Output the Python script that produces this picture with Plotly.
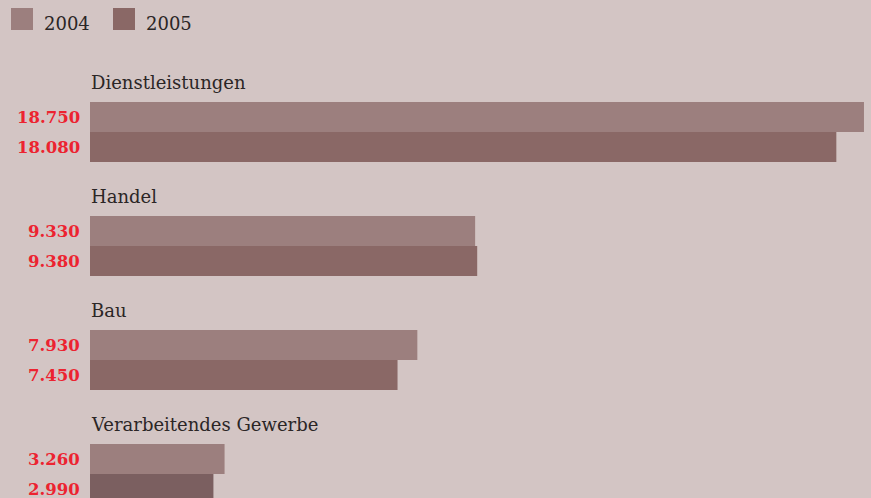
import plotly.graph_objects as go

categories = ["Dienstleistungen", "Handel", "Bau", "Verarbeitendes Gewerbe"]
values_2004 = [18750, 9330, 7930, 3260]
values_2005 = [18080, 9380, 7450, 2990]
labels_2004 = ["18.750", "9.330", "7.930", "3.260"]
labels_2005 = ["18.080", "9.380", "7.450", "2.990"]
series_names = ["2004", "2005"]

W, H = 871, 498
BG = "#d3c5c4"
C2004 = "#9c7f7e"
C2005 = "#8a6866"
C2005_last = "#7b5f60"
RED = "#ec2330"
TXT = "#2b2626"
FONT = "DejaVu Serif"

idx = list(range(len(categories)))
bw = 30 / 114

fig = go.Figure()
fig.add_trace(go.Bar(orientation="h", y=idx, x=values_2004, width=bw, offset=-bw,
                     marker=dict(color=C2004, line=dict(width=0)), name=series_names[0],
                     hoverinfo="x"))
fig.add_trace(go.Bar(orientation="h", y=idx, x=values_2005, width=bw, offset=0,
                     marker=dict(color=[C2005, C2005, C2005, C2005_last], line=dict(width=0)),
                     name=series_names[1], hoverinfo="x"))

ann = []
for i, c in enumerate(categories):
    ann.append(dict(x=0, y=i - 0.43, xref="x", yref="y", text=c, showarrow=False,
                    xanchor="left", yanchor="middle", xshift=-1,
                    font=dict(family=FONT, size=18, color=TXT)))
    ann.append(dict(x=0, y=i - bw / 2, xref="x", yref="y", text="<b>%s</b>" % labels_2004[i],
                    showarrow=False, xanchor="right", yanchor="middle", xshift=-8,
                    font=dict(family=FONT, size=16.5, color=RED)))
    ann.append(dict(x=0, y=i + bw / 2, xref="x", yref="y", text="<b>%s</b>" % labels_2005[i],
                    showarrow=False, xanchor="right", yanchor="middle", xshift=-8,
                    font=dict(family=FONT, size=16.5, color=RED)))

# legend drawn as shapes + text
shapes = []
leg = [(11, C2004, series_names[0], 42), (113, C2005, series_names[1], 144)]
for x0, col, name, tx in leg:
    shapes.append(dict(type="rect", xref="paper", yref="paper",
                       x0=x0 / W, x1=(x0 + 22) / W, y0=1 - 30 / H, y1=1 - 8 / H,
                       fillcolor=col, line=dict(width=0)))
    ann.append(dict(x=tx / W, y=1 - 23 / H, xref="paper", yref="paper", text=name,
                    showarrow=False, xanchor="left", yanchor="middle",
                    font=dict(family=FONT, size=18, color=TXT)))

y_top = (0 - 132) / 114
y_bot = (H - 132) / 114

fig.update_layout(
    width=W, height=H,
    margin=dict(l=0, r=0, t=0, b=0),
    paper_bgcolor=BG, plot_bgcolor=BG,
    showlegend=False,
    barmode="overlay",
    xaxis=dict(domain=[90 / W, 1], range=[0, 18920], visible=False, fixedrange=True),
    yaxis=dict(range=[y_bot, y_top], visible=False, fixedrange=True),
    annotations=ann, shapes=shapes,
    font=dict(family=FONT),
)

fig.write_html("out.html", config={"displayModeBar": False},
               post_script="document.body.style.margin='0';document.body.style.padding='0';"
                           "document.body.style.background='%s';" % BG)
